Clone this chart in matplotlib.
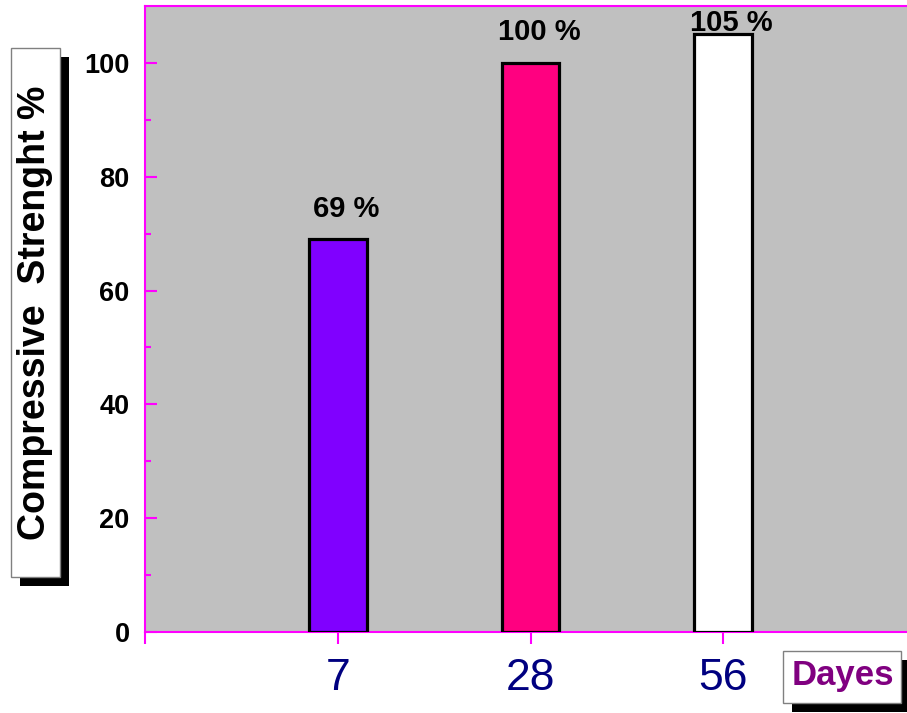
import matplotlib
matplotlib.use("Agg")
import matplotlib.pyplot as plt
from matplotlib.patches import Rectangle

# data
days = ["7", "28", "56"]
strength = [69, 100, 105]
bar_colors = ["#8000ff", "#ff0080", "#ffffff"]

plt.rcParams['font.family'] = ['Liberation Sans', 'DejaVu Sans']

W, H = 907, 713
fig = plt.figure(figsize=(W / 100, H / 100), dpi=100)
# the plot area runs a little past the right edge of the picture
ax = fig.add_axes([145 / W, 1 - 632 / H, (916 - 145) / W, (632 - 6) / H])
ax.set_facecolor("#c0c0c0")

pos = list(range(1, len(days) + 1))
ax.bar(pos, strength, width=0.3, color=bar_colors, edgecolor="black", linewidth=2.3, zorder=3)

for x, v in zip(pos, strength):
    ax.annotate("%d %%" % v, xy=(x, min(v + 4.0, 105.6)), xytext=(6, 0),
                textcoords="offset points", ha="center", va="baseline",
                fontsize=21, fontweight="bold", color="black", zorder=4)

ax.set_xlim(0, 4)
ax.set_ylim(0, 110)

mag = "#ff00ff"
for s in ["left", "bottom", "top"]:
    ax.spines[s].set_color(mag)
    ax.spines[s].set_linewidth(1.5)
ax.spines["right"].set_visible(False)

ax.set_yticks([0, 20, 40, 60, 80, 100])
ax.set_yticks(range(10, 110, 20), minor=True)
ax.tick_params(axis="y", which="major", direction="in", length=8.6, width=1.5,
               color=mag, pad=11, labelsize=19.5)
ax.tick_params(axis="y", which="minor", direction="in", length=4.3, width=1.5, color=mag)
for t in ax.get_yticklabels():
    t.set_fontweight("bold")

ax.set_xticks([0] + pos)
ax.set_xticklabels([""] + days)
ax.tick_params(axis="x", which="major", direction="out", length=8.6, width=1.5,
               color=mag, pad=10, labelsize=32, labelcolor="#000080")

# y label box with shadow
def fig_rect(x0, y0, x1, y1, **kw):
    r = Rectangle((x0 / W, 1 - y1 / H), (x1 - x0) / W, (y1 - y0) / H,
                  transform=fig.transFigure, **kw)
    fig.patches.append(r)

fig_rect(20, 57, 69, 586, facecolor="black", edgecolor="black", lw=0)
fig_rect(11, 48, 60, 577, facecolor="white", edgecolor="#808080", lw=1)
fig.text(35 / W, 1 - 313 / H, "Compressive  Strenght %", rotation=90,
         ha="center", va="center", fontsize=27, fontweight="bold", color="black")

# x label box with shadow
fig_rect(792, 660, 907, 712, facecolor="black", edgecolor="black", lw=0)
fig_rect(783, 651, 901, 703, facecolor="white", edgecolor="#808080", lw=1)
fig.text(843 / W, 1 - 676 / H, "Dayes", ha="center", va="center",
         fontsize=25, fontweight="bold", color="#800080")

fig.savefig("out.png", dpi=100)
